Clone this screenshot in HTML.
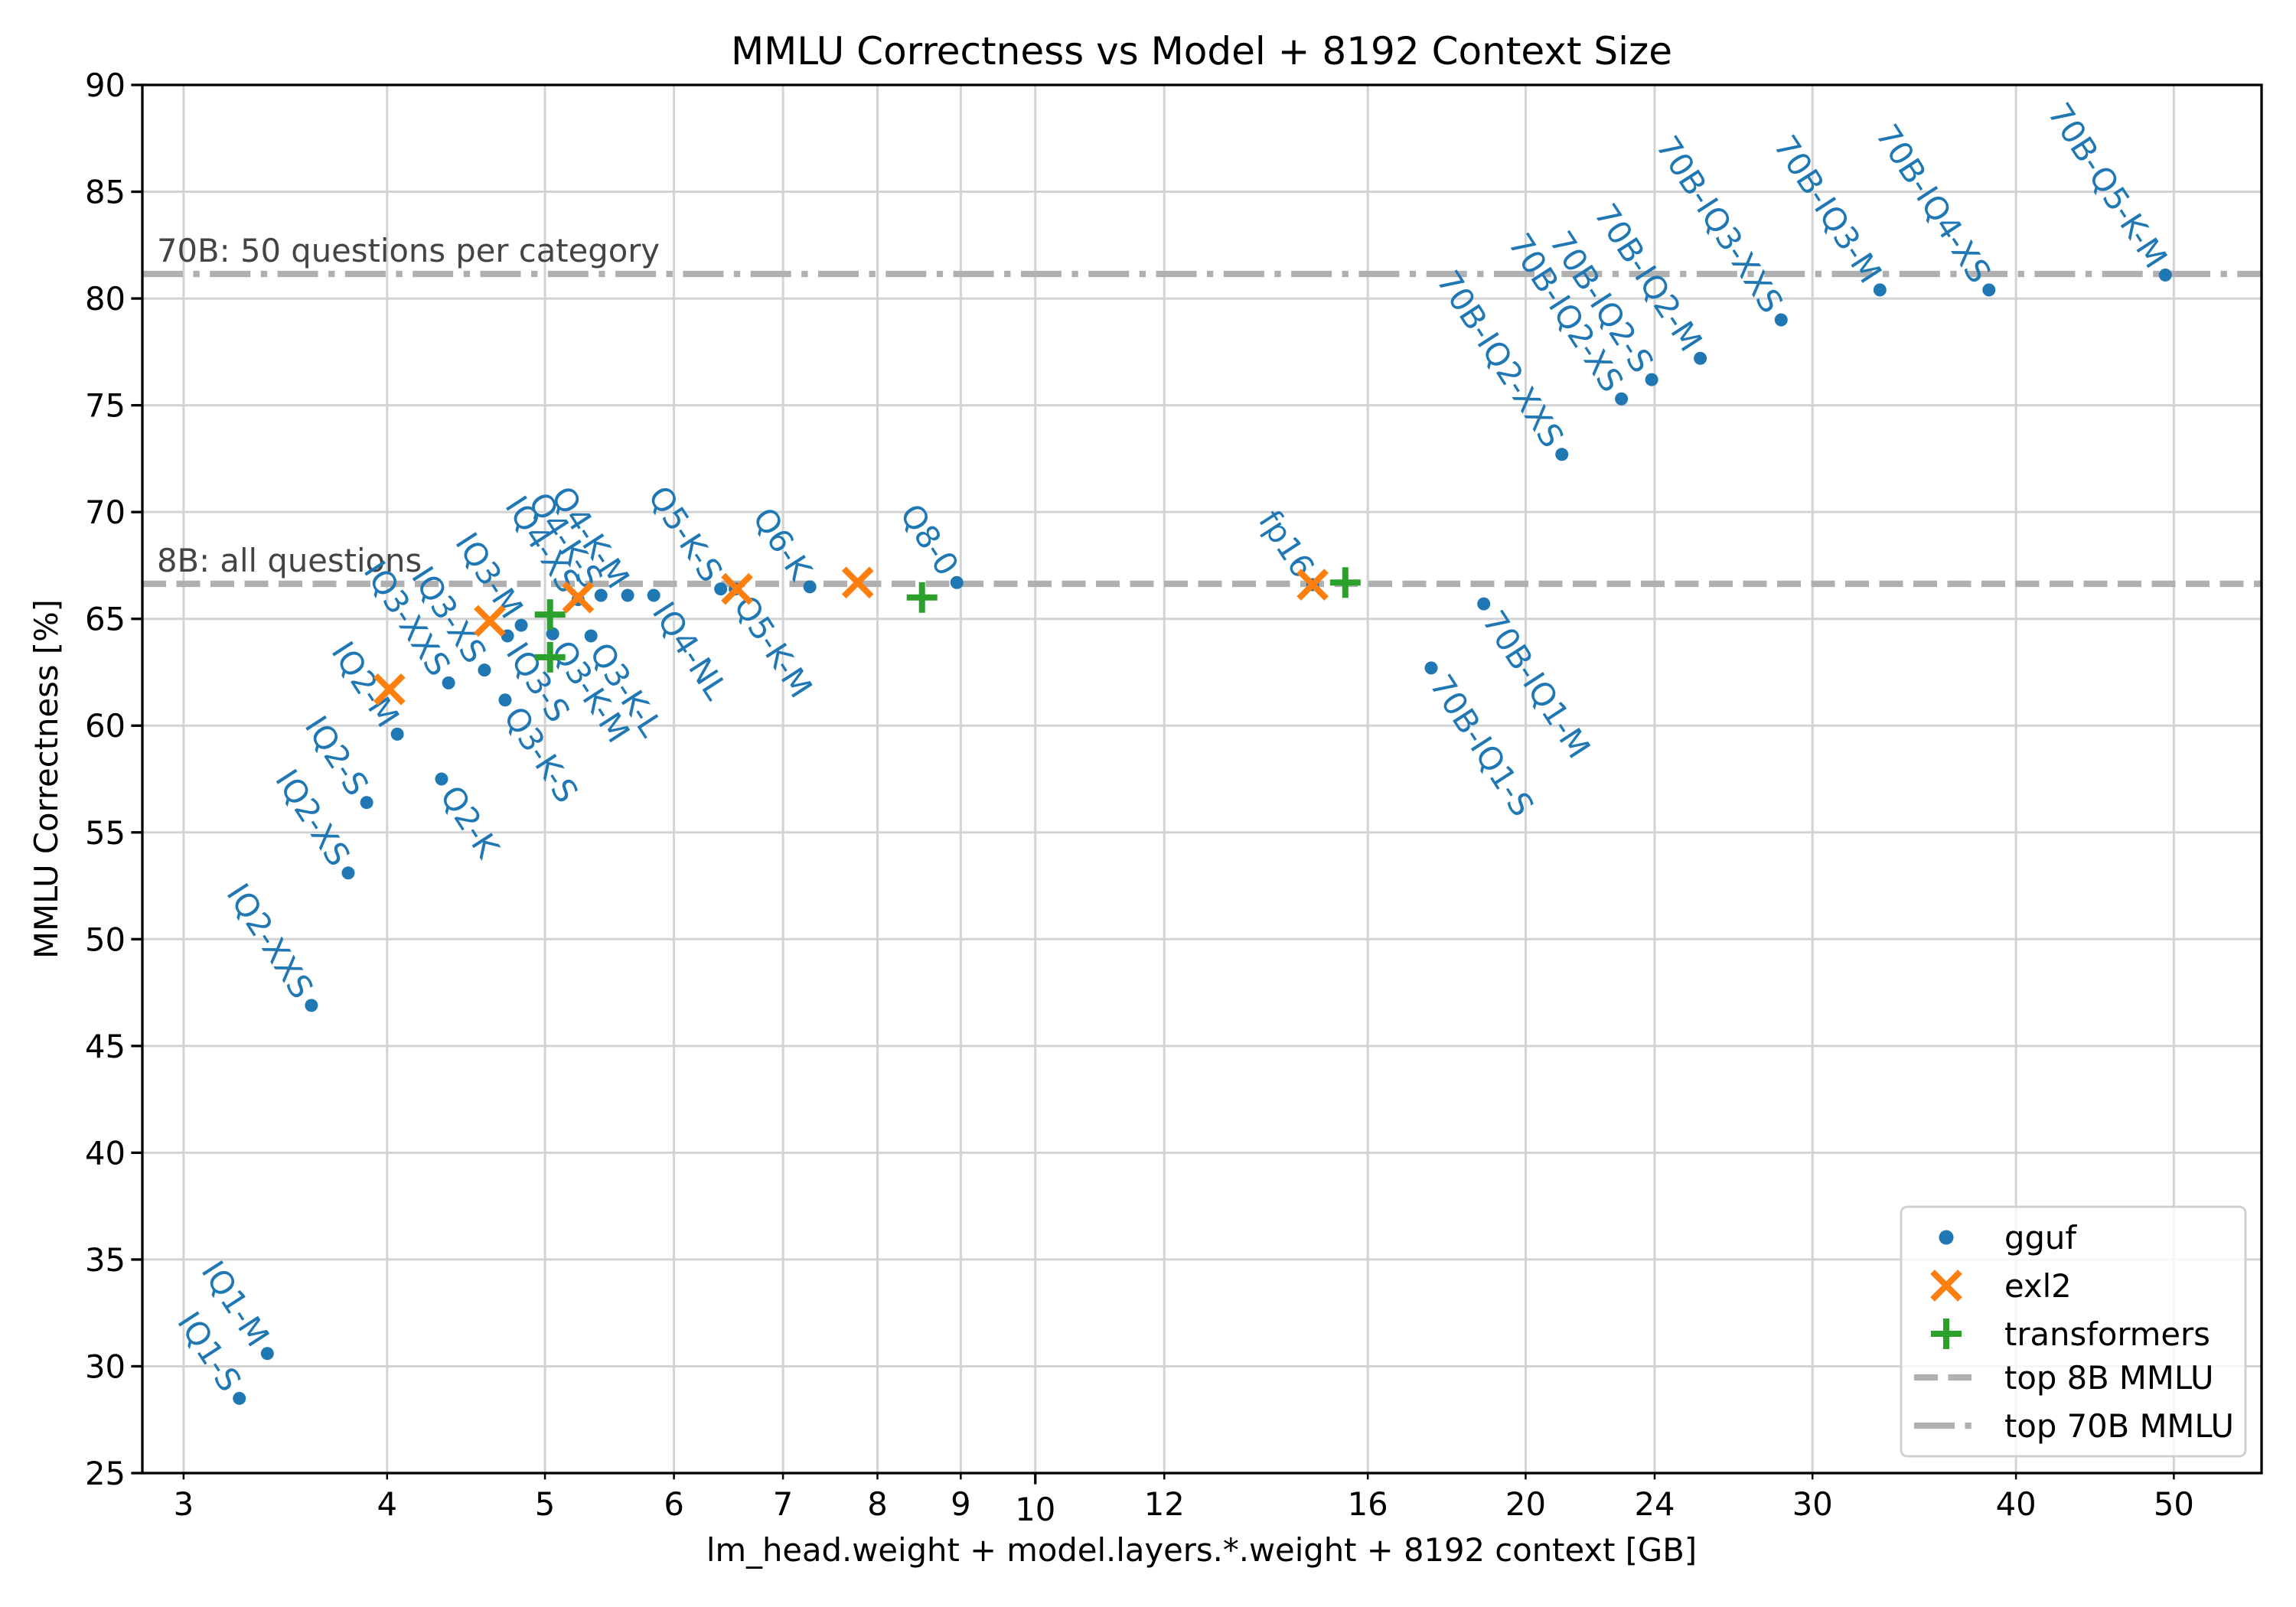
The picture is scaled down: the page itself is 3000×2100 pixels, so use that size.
<!DOCTYPE html>
<html><head><meta charset="utf-8"><style>
html,body{margin:0;padding:0;background:#fff;}
svg{display:block;font-family:"DejaVu Sans","Liberation Sans",sans-serif;}
</style></head><body>
<svg id="chart" width="3000" height="2100" viewBox="0 0 3000 2100">
<rect width="3000" height="2100" fill="#fff"/>
<text x="1570" y="84" font-size="50" text-anchor="middle">MMLU Correctness vs Model + 8192 Context Size</text>
<g id="grid"></g>
<g id="hlines"></g>
<g id="marks"></g>
<g id="axes"></g>
<text x="1570" y="2040" font-size="41.7" text-anchor="middle">lm_head.weight + model.layers.*.weight + 8192 context [GB]</text>
<text transform="translate(75,1018) rotate(-90)" font-size="41.7" text-anchor="middle">MMLU Correctness [%]</text>
<g id="legend"></g>
</svg>
<script>
const xTicks=[3,4,5,6,7,8,9,10,12,16,20,24,30,40,50];
const yTicks=[25,30,35,40,45,50,55,60,65,70,75,80,85,90];
const ggufNames=["IQ1-S","IQ1-M","IQ2-XXS","IQ2-XS","IQ2-S","IQ2-M","Q2-K","IQ3-XXS","IQ3-XS","Q3-K-S","IQ3-S","IQ3-M","Q3-K-M","IQ4-XS","Q3-K-L","Q4-K-S","Q4-K-M","IQ4-NL","Q5-K-S","Q5-K-M","Q6-K","Q8-0","fp16","70B-IQ1-S","70B-IQ1-M","70B-IQ2-XXS","70B-IQ2-XS","70B-IQ2-S","70B-IQ2-M","70B-IQ3-XXS","70B-IQ3-M","70B-IQ4-XS","70B-Q5-K-M"];
const ggufSize=[3.246,3.377,3.594,3.786,3.886,4.058,4.320,4.363,4.590,4.726,4.742,4.835,5.055,5.24,5.336,5.412,5.620,5.831,6.410,6.543,7.271,8.95,14.8,17.5,18.85,21.05,22.9,23.9,25.6,28.7,33.0,38.5,49.4];
const ggufScore=[28.5,30.6,46.9,53.1,56.4,59.6,57.5,62.0,62.6,61.2,64.2,64.7,64.3,65.9,64.2,66.1,66.1,66.1,66.4,66.4,66.5,66.7,66.6,62.7,65.7,72.7,75.3,76.2,77.2,79.0,80.4,80.4,81.1];
const ggufAnchor=["e","e","e","e","e","e","s","e","e","s","s","e","s","e","s","e","e","s","e","s","e","e","e","s","s","e","e","e","e","e","e","e","e"];
const exl2Size=[4.013,4.625,5.24,6.56,7.78,14.8];
const exl2Score=[61.7,64.9,66.0,66.4,66.7,66.6];
const trSize=[5.036,5.036,8.52,15.5];
const trScore=[65.2,63.2,66.0,66.7];
const top8B=66.64, top70B=81.15;

const L=186,R=2955,T=111,B=1925;
const xmin=Math.pow(10,0.4518), xmax=56.6, ymin=25, ymax=90;
const lx0=Math.log10(xmin), lx1=Math.log10(xmax);
const X=v=>L+(Math.log10(v)-lx0)/(lx1-lx0)*(R-L);
const Y=v=>B-(v-ymin)/(ymax-ymin)*(B-T);
const NS="http://www.w3.org/2000/svg";
function mk(tag,attrs,parent){const e=document.createElementNS(NS,tag);for(const k in attrs)e.setAttribute(k,attrs[k]);parent.appendChild(e);return e;}
const grid=document.getElementById('grid'),axes=document.getElementById('axes'),marks=document.getElementById('marks'),hl=document.getElementById('hlines'),leg=document.getElementById('legend');
xTicks.forEach(t=>{
 const x=X(t);
 const g=mk('line',{x1:x,x2:x,y1:T,y2:B,stroke:'#d3d3d3','stroke-width':3},grid);
 
 
 const major=(t===10);
 const tk=mk('line',{x1:x,x2:x,y1:B,y2:B+(major?14.6:8.3),stroke:'#000','stroke-width':major?3.3:2.5},axes);
 
 
 const lb=mk('text',{x:x,y:B+(major?62:55),'font-size':41.7,'text-anchor':'middle'},axes);
 lb.textContent=t;
 
 
});
yTicks.forEach(t=>{
 const y=Y(t);
 const g=mk('line',{x1:L,x2:R,y1:y,y2:y,stroke:'#d3d3d3','stroke-width':3},grid);
 
 
 const tk=mk('line',{x1:L-14.6,x2:L,y1:y,y2:y,stroke:'#000','stroke-width':3.3},axes);
 
 
 const lb=mk('text',{x:L-22,y:y+15,'font-size':41.7,'text-anchor':'end'},axes);
 lb.textContent=t;
 
 
});
const frame=mk('rect',{x:L,y:T,width:R-L,height:B-T,fill:'none',stroke:'#000','stroke-width':3.3},axes);


const l8=mk('line',{x1:L,x2:R,y1:Y(top8B),y2:Y(top8B),stroke:'#b0b0b0','stroke-width':8.3,'stroke-dasharray':'31 13.5'},hl);


const l70=mk('line',{x1:L,x2:R,y1:Y(top70B),y2:Y(top70B),stroke:'#b0b0b0','stroke-width':8.3,'stroke-dasharray':'53 13.5 8.3 13.5'},hl);


const t8=mk('text',{x:205,y:Y(top8B)-16,'font-size':41.7,fill:'#444'},hl);
t8.textContent='8B: all questions';


const t70=mk('text',{x:205,y:Y(top70B)-16,'font-size':41.7,fill:'#444'},hl);
t70.textContent='70B: 50 questions per category';


const blue='#1f77b4',orange='#ff7f0e',green='#2ca02c';
ggufSize.forEach((s,i)=>{
 const cx=X(s),cy=Y(ggufScore[i]);
 const c=mk('circle',{cx:cx,cy:cy,r:8.5,fill:blue},marks);
 
 
 const st=ggufAnchor[i]==='s';
 const tx=mk('text',{transform:`translate(${cx},${cy}) rotate(57)`,x:st?16:-16,y:14,'font-size':41.7,fill:blue,'text-anchor':st?'start':'end'},marks);
 tx.textContent=ggufNames[i];
 
 
});
function xmark(cx,cy,parent,sz){return mk('path',{d:`M${cx-sz},${cy-sz}L${cx+sz},${cy+sz}M${cx-sz},${cy+sz}L${cx+sz},${cy-sz}`,stroke:orange,'stroke-width':8,fill:'none'},parent);}
function pmark(cx,cy,parent,sz){return mk('path',{d:`M${cx-sz},${cy}L${cx+sz},${cy}M${cx},${cy-sz}L${cx},${cy+sz}`,stroke:green,'stroke-width':8,fill:'none'},parent);}
exl2Size.forEach((s,i)=>{
 const m=xmark(X(s),Y(exl2Score[i]),marks,18);
 
 
});
trSize.forEach((s,i)=>{
 const m=pmark(X(s),Y(trScore[i]),marks,20);
 
 
});
const box=mk('rect',{x:2484,y:1577,width:450,height:326,rx:8,fill:'#fff','fill-opacity':0.8,stroke:'#d0d0d0','stroke-width':3},leg);


const ents=['gguf','exl2','transformers','top 8B MMLU','top 70B MMLU'];
const eys=[1617,1680,1743,1800,1863];
ents.forEach((n,i)=>{
 const y=eys[i];let m;
 if(i===0)m=mk('circle',{cx:2543,cy:y,r:9.5,fill:blue},leg);
 else if(i===1)m=xmark(2543,y,leg,18);
 else if(i===2)m=pmark(2543,y,leg,20);
 else if(i===3)m=mk('line',{x1:2501,x2:2576,y1:y,y2:y,stroke:'#b0b0b0','stroke-width':8.3,'stroke-dasharray':'31 13.5'},leg);
 else m=mk('line',{x1:2501,x2:2576,y1:y,y2:y,stroke:'#b0b0b0','stroke-width':8.3,'stroke-dasharray':'53 13.5 8.3 13.5'},leg);
 
 
 const t=mk('text',{x:2619,y:y+15,'font-size':41.7},leg);
 t.textContent=n;
 
 
});
</script>
</body></html>
